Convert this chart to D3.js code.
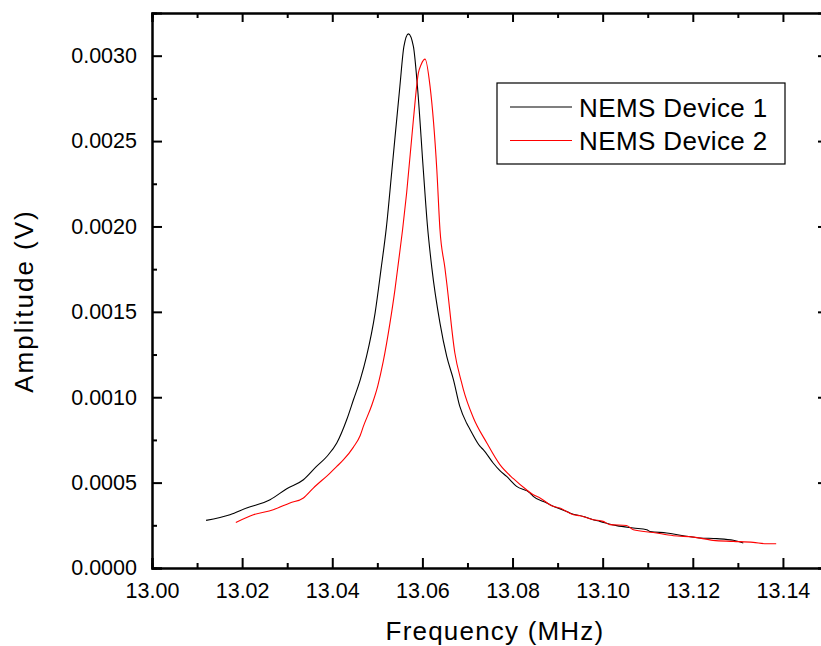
<!DOCTYPE html>
<html>
<head>
<meta charset="utf-8">
<script src="https://cdn.jsdelivr.net/npm/d3@7"></script>
<style>
  body { margin: 0; background: #fff; }
  text { font-family: "Liberation Sans", Arial, sans-serif; fill: #000; }
</style>
</head>
<body>
<div id="chart"></div>
<script>
// Resonance curves of two NEMS devices

// Device 1 (black): frequency in MHz, amplitude in V
const freq1 = [13.0120, 13.0173, 13.0210, 13.0262, 13.0299, 13.0336, 13.0365, 13.0388, 13.0410, 13.0432,
               13.0447, 13.0462, 13.0476, 13.0495, 13.0508, 13.0520, 13.0532, 13.0550, 13.0559, 13.0569,
               13.0580, 13.0589, 13.0602, 13.0611, 13.0621, 13.0639, 13.0654, 13.0669, 13.0683, 13.0698,
               13.0706, 13.0728, 13.0735, 13.0757, 13.0772, 13.0787, 13.0809, 13.0839, 13.0846,
               13.0876, 13.0883, 13.0920, 13.0927, 13.0957, 13.0979, 13.0994, 13.1031, 13.1068, 13.1098,
               13.1105, 13.1142, 13.1179, 13.1216, 13.1253, 13.1290, 13.1312];
const amp1  = [0.000279, 0.000312, 0.000351, 0.000400, 0.000464, 0.000517, 0.000595, 0.000653, 0.000732, 0.000868,
               0.000985, 0.001102, 0.001239, 0.001493, 0.001746, 0.001993, 0.002320, 0.002820, 0.003054, 0.003128,
               0.003054, 0.002820, 0.002332, 0.002010, 0.001756, 0.001434, 0.001239, 0.001102, 0.000946, 0.000849,
               0.000810, 0.000712, 0.000693, 0.000615, 0.000570, 0.000536, 0.000478, 0.000439, 0.000419,
               0.000381, 0.000371, 0.000331, 0.000322, 0.000302, 0.000283, 0.000273, 0.000248, 0.000234, 0.000224,
               0.000214, 0.000205, 0.000189, 0.000176, 0.000172, 0.000162, 0.000146];

// Device 2 (red)
const freq2 = [13.0186, 13.0225, 13.0269, 13.0306, 13.0336, 13.0358, 13.0395, 13.0410, 13.0425,
               13.0447, 13.0462, 13.0469, 13.0488, 13.0501, 13.0513, 13.0528, 13.0539, 13.0547,
               13.0556, 13.0565, 13.0580, 13.0591, 13.0597, 13.0606, 13.0617, 13.0632, 13.0639, 13.0650,
               13.0654, 13.0672, 13.0687, 13.0691, 13.0713, 13.0743, 13.0772, 13.0802, 13.0831, 13.0846,
               13.0861, 13.0890, 13.0905, 13.0935, 13.0950, 13.0979, 13.1001, 13.1016, 13.1053, 13.1068,
               13.1112, 13.1157, 13.1201, 13.1245, 13.1290, 13.1334, 13.1364, 13.1385];
const amp2  = [0.000267, 0.000312, 0.000341, 0.000381, 0.000410, 0.000468, 0.000556, 0.000595, 0.000634,
               0.000708, 0.000776, 0.000829, 0.000956, 0.001067, 0.001208, 0.001434, 0.001629, 0.001793,
               0.001981, 0.002196, 0.002625, 0.002898, 0.002947, 0.002980, 0.002820, 0.002332, 0.001981, 0.001756,
               0.001669, 0.001259, 0.001085, 0.001044, 0.000880, 0.000732, 0.000605, 0.000523, 0.000458, 0.000429,
               0.000410, 0.000361, 0.000351, 0.000312, 0.000306, 0.000283, 0.000273, 0.000254, 0.000249, 0.000224,
               0.000208, 0.000189, 0.000181, 0.000162, 0.000156, 0.000150, 0.000142, 0.000142];

const seriesNames = ["NEMS Device 1", "NEMS Device 2"];
const seriesColors = ["#000000", "#ff0000"];

const xMajor = [13.00, 13.02, 13.04, 13.06, 13.08, 13.10, 13.12, 13.14];
const xMinor = [13.01, 13.03, 13.05, 13.07, 13.09, 13.11, 13.13];
const yMajor = [0.0000, 0.0005, 0.0010, 0.0015, 0.0020, 0.0025, 0.0030];
const yMinor = [0.00025, 0.00075, 0.00125, 0.00175, 0.00225, 0.00275];

const series = [
  freq1.map((f, i) => ({ f: f, a: amp1[i] })),
  freq2.map((f, i) => ({ f: f, a: amp2[i] }))
];

// Layout
const W = 821, H = 646;
const plot = { left: 152, right: 828, top: 13, bottom: 568 };

const svg = d3.select("#chart")
  .append("svg")
    .attr("width", W)
    .attr("height", H)
    .style("background", "#fff");

const x = d3.scaleLinear().domain([13.00, 13.15]).range([plot.left, plot.right]);
const y = d3.scaleLinear().domain([0, 0.00325]).range([plot.bottom, plot.top]);

// Data lines
const line = d3.line()
  .x(d => x(d.f))
  .y(d => y(d.a))
  .curve(d3.curveMonotoneX);

series.forEach((s, i) => {
  svg.append("path")
    .datum(s)
    .attr("fill", "none")
    .attr("stroke", seriesColors[i])
    .attr("stroke-width", 1.1)
    .attr("d", line);
});

// Axes: ticks on all four sides point inward
const fmtX = d3.format(".2f"), fmtY = d3.format(".4f");

svg.append("g").attr("transform", `translate(0,${plot.bottom})`)
  .call(d3.axisBottom(x).tickValues(xMajor).tickSize(-10).tickPadding(15).tickFormat(fmtX));
svg.append("g").attr("transform", `translate(0,${plot.bottom})`)
  .call(d3.axisBottom(x).tickValues(xMinor).tickSize(-5).tickFormat(""));

svg.append("g").attr("transform", `translate(0,${plot.top})`)
  .call(d3.axisTop(x).tickValues(xMajor).tickSize(-9).tickFormat(""));
svg.append("g").attr("transform", `translate(0,${plot.top})`)
  .call(d3.axisTop(x).tickValues(xMinor).tickSize(-5).tickFormat(""));

svg.append("g").attr("transform", `translate(${plot.left},0)`)
  .call(d3.axisLeft(y).tickValues(yMajor).tickSize(-10).tickPadding(15).tickFormat(fmtY));
svg.append("g").attr("transform", `translate(${plot.left},0)`)
  .call(d3.axisLeft(y).tickValues(yMinor).tickSize(-5).tickFormat(""));

svg.append("g").attr("transform", `translate(${plot.right},0)`)
  .call(d3.axisRight(y).tickValues(yMajor).tickSize(-10).tickFormat(""));
svg.append("g").attr("transform", `translate(${plot.right},0)`)
  .call(d3.axisRight(y).tickValues(yMinor).tickSize(-5).tickFormat(""));

svg.selectAll(".domain").attr("stroke", "#000").attr("stroke-width", 2);
svg.selectAll(".tick line").attr("stroke", "#000").attr("stroke-width", 2);
svg.selectAll(".tick text")
  .style("font-family", "'Liberation Sans', Arial, sans-serif")
  .style("font-size", "21.5px")
  .attr("fill", "#000");

// Axis titles
svg.append("text")
  .attr("x", 495)
  .attr("y", 640)
  .attr("text-anchor", "middle")
  .style("font-size", "26px")
  .style("letter-spacing", "1.2px")
  .text("Frequency (MHz)");

svg.append("text")
  .attr("transform", "translate(33,301) rotate(-90)")
  .attr("text-anchor", "middle")
  .style("font-size", "26px")
  .style("letter-spacing", "2px")
  .text("Amplitude (V)");

// Legend
const legend = svg.append("g").attr("transform", "translate(497,83)");
legend.append("rect")
  .attr("width", 288)
  .attr("height", 81)
  .attr("fill", "#fff")
  .attr("stroke", "#000")
  .attr("stroke-width", 1.2);

seriesNames.forEach((name, i) => {
  const row = legend.append("g").attr("transform", `translate(0,${24 + i * 33.5})`);
  row.append("line")
    .attr("x1", 13).attr("x2", 75)
    .attr("stroke", seriesColors[i])
    .attr("stroke-width", 1.2);
  row.append("text")
    .attr("x", 82)
    .attr("y", 9.5)
    .style("font-size", "26px")
    .style("letter-spacing", "0.4px")
    .text(name);
});
</script>
</body>
</html>
